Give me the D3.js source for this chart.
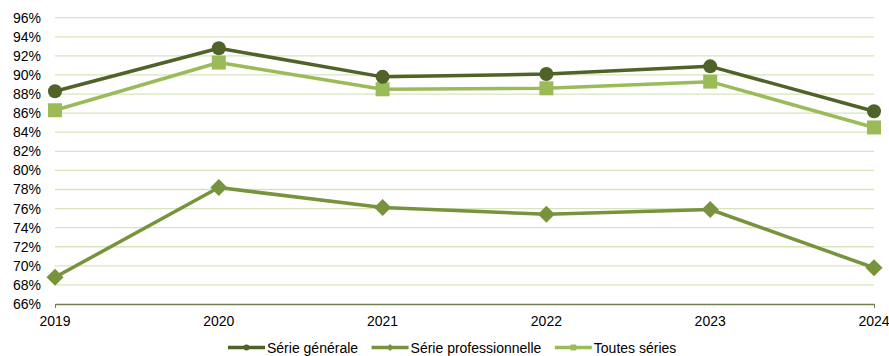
<!DOCTYPE html>
<html><head><meta charset="utf-8">
<script src="https://cdn.jsdelivr.net/npm/d3@7"></script>
<style>body{margin:0;background:#fff}svg{display:block;font-family:"Liberation Sans",Arial,sans-serif}</style>
</head><body><svg id="c" width="889" height="356"></svg>
<script>
const years = ["2019","2020","2021","2022","2023","2024"];
const serieGenerale = [88.3, 92.8, 89.8, 90.1, 90.9, 86.2];
const serieProfessionnelle = [68.8, 78.2, 76.1, 75.4, 75.9, 69.8];
const toutesSeries = [86.3, 91.3, 88.5, 88.6, 89.3, 84.5];
const yTicks = [66,68,70,72,74,76,78,80,82,84,86,88,90,92,94,96];
const seriesNames = ["Série générale","Série professionnelle","Toutes séries"];

const svg = d3.select("#c");
const x = d3.scalePoint().domain(years).range([55, 874]);
const y = d3.scaleLinear().domain([66, 96]).range([304, 17.7]);

const series = [
  {name: seriesNames[0], values: serieGenerale, color: "#4F6228", marker: "circle"},
  {name: seriesNames[1], values: serieProfessionnelle, color: "#77933C", marker: "diamond"},
  {name: seriesNames[2], values: toutesSeries, color: "#9BBB59", marker: "square"}
];

// grid
svg.append("g").selectAll("line").data(yTicks.slice(1)).join("line")
  .attr("x1", 55).attr("x2", 874)
  .attr("y1", d => y(d)).attr("y2", d => y(d))
  .attr("stroke", "#D7E4BD").attr("stroke-width", 1.3);

// y axis labels
const yAxis = d3.axisLeft(y).tickValues(yTicks).tickFormat(d => d + "%").tickSize(0).tickPadding(14);
const gy = svg.append("g").attr("transform", "translate(55,0)").call(yAxis);
gy.select(".domain").remove();
gy.selectAll("text").attr("font-size", 14).attr("fill", "#000").attr("font-family", "Liberation Sans, Arial, sans-serif");

// x axis
const xAxis = d3.axisBottom(x).tickValues([years[0], years[years.length-1]]).tickSize(4).tickSizeOuter(0);
const gx = svg.append("g").attr("transform", "translate(0,304)").call(xAxis);
gx.select(".domain").attr("stroke", "#6F7F4F").attr("stroke-width", 1.3);
gx.selectAll(".tick line").attr("stroke", "#6F7F4F");
gx.selectAll("text").remove();
svg.append("g").selectAll("text").data(years).join("text")
  .attr("x", d => x(d)).attr("y", 326).attr("text-anchor", "middle")
  .attr("font-size", 14).attr("fill", "#000").text(d => d);

const line = d3.line().x((d, i) => x(years[i])).y(d => y(d));

function marker(g, type, cx, cy, color, s) {
  if (type === "circle") g.append("circle").attr("cx", cx).attr("cy", cy).attr("r", 7*s).attr("fill", color);
  else if (type === "square") g.append("rect").attr("x", cx-7*s).attr("y", cy-7*s).attr("width", 14*s).attr("height", 14*s).attr("fill", color);
  else g.append("path").attr("d", `M${cx},${cy-8.5*s}L${cx+8.5*s},${cy}L${cx},${cy+8.5*s}L${cx-8.5*s},${cy}Z`).attr("fill", color);
}

// draw order: pro, toutes, generale
[series[1], series[2], series[0]].forEach(s => {
  const g = svg.append("g");
  g.append("path").datum(s.values).attr("d", line).attr("fill", "none")
    .attr("stroke", s.color).attr("stroke-width", 3.5).attr("stroke-linejoin", "round");
  s.values.forEach((v, i) => marker(g, s.marker, x(years[i]), y(v), s.color, 1));
});

// legend
const lg = svg.append("g");
let cur = 228;
series.forEach((s, i) => {
  const g = lg.append("g");
  g.append("line").attr("x1", cur).attr("x2", cur+37).attr("y1", 347.5).attr("y2", 347.5)
    .attr("stroke", s.color).attr("stroke-width", 3.5);
  marker(g, s.marker, cur+18.5, 347.5, s.color, 0.42);
  const t = g.append("text").attr("x", cur+39).attr("y", 352.5).attr("font-size", 14).attr("fill", "#000").text(s.name);
  cur += 39 + t.node().getComputedTextLength() + 13.5;
});
</script></body></html>
